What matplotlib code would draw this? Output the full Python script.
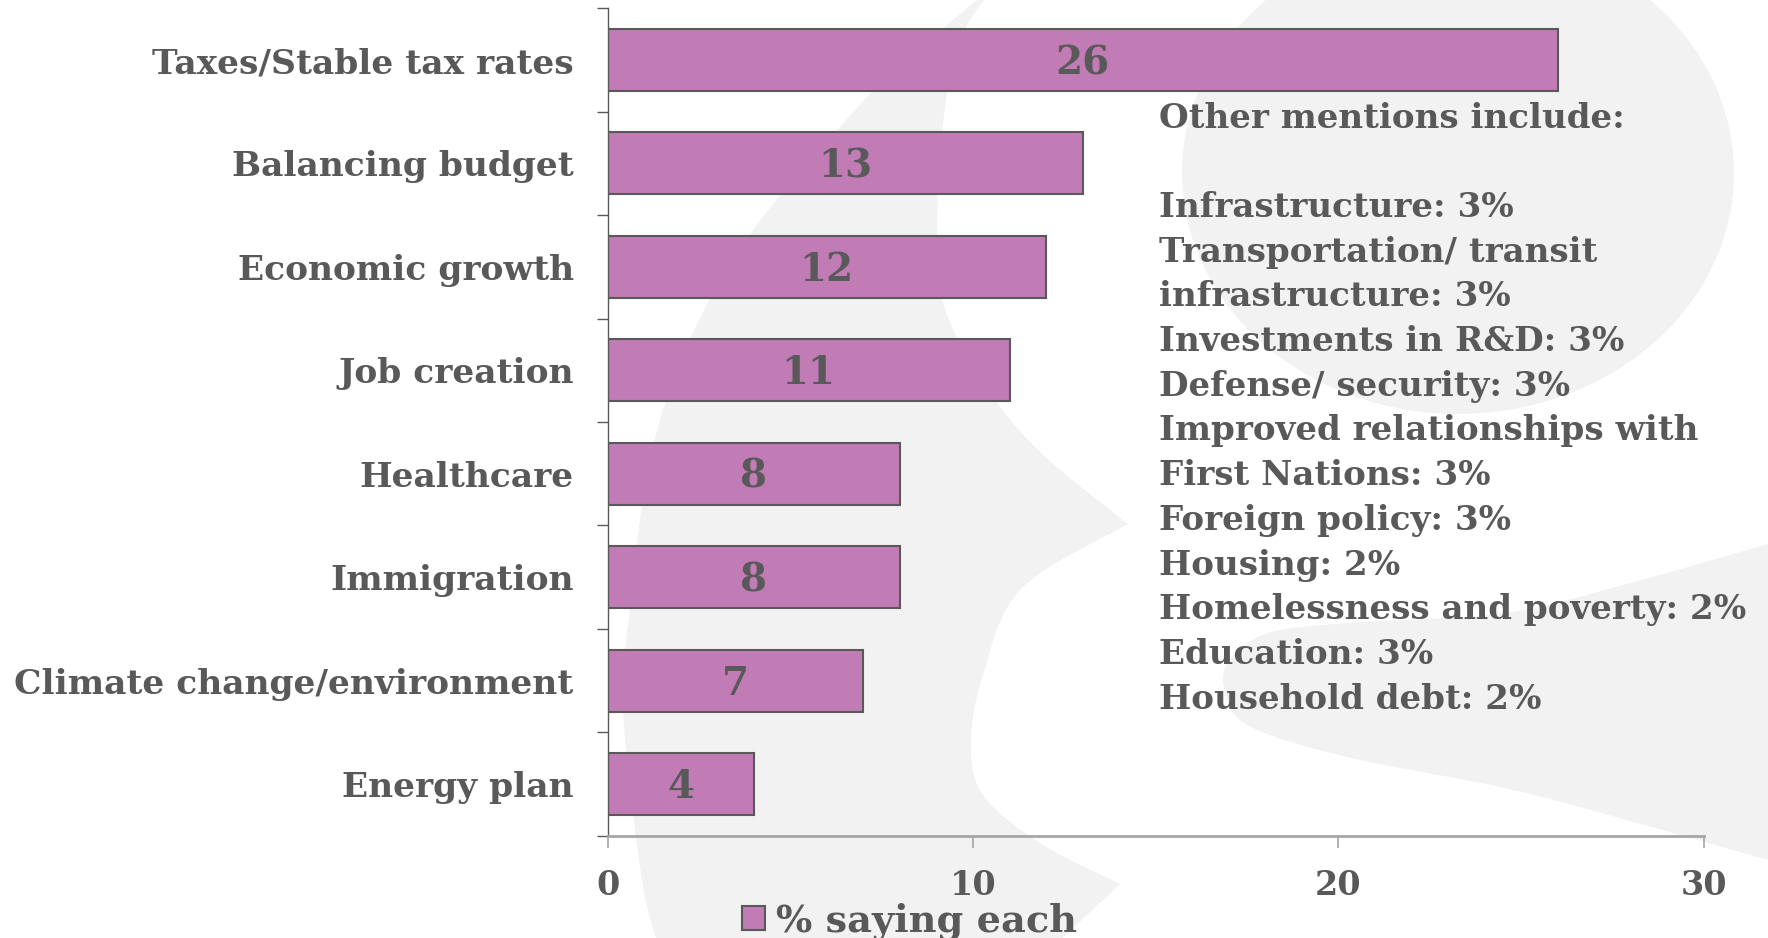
import numpy as np
import matplotlib
matplotlib.use("Agg")
import matplotlib.pyplot as plt
from matplotlib.path import Path
from matplotlib.patches import PathPatch, Ellipse, Patch

# data
categories = ["Taxes/Stable tax rates", "Balancing budget", "Economic growth",
              "Job creation", "Healthcare", "Immigration",
              "Climate change/environment", "Energy plan"]
values = [26, 13, 12, 11, 8, 8, 7, 4]
x_ticks = [0, 10, 20, 30]
series_name = "% saying each"
other_title = "Other mentions include:"
other_mentions = ["Infrastructure: 3%", "Transportation/ transit",
                  "infrastructure: 3%", "Investments in R&D: 3%",
                  "Defense/ security: 3%", "Improved relationships with",
                  "First Nations: 3%", "Foreign policy: 3%", "Housing: 2%",
                  "Homelessness and poverty: 2%", "Education: 3%",
                  "Household debt: 2%"]

BAR = "#C17BB5"
EDGE = "#595959"
TEXT = "#595959"
WMARK = "#F2F2F2"

plt.rcParams["font.family"] = ["DejaVu Serif"]
plt.rcParams["font.weight"] = "bold"

W, H = 1768, 938
fig = plt.figure(figsize=(W / 100, H / 100), dpi=100)


def blob(*chains):
    # closed shape made of smooth curves through the given points (pixel coords)
    verts, codes = [], []
    for k, chain in enumerate(chains):
        p = np.asarray(chain, float)
        verts.append(p[0])
        codes.append(Path.MOVETO if k == 0 else Path.LINETO)
        n = len(p)
        for i in range(n - 1):
            a = p[max(i - 1, 0)]
            d = p[min(i + 2, n - 1)]
            verts += [p[i] + (p[i + 1] - a) / 6, p[i + 1] - (d - p[i]) / 6, p[i + 1]]
            codes += [Path.CURVE4] * 3
    verts.append(verts[0])
    codes.append(Path.CLOSEPOLY)
    return Path(verts, codes)


# background watermark
bg = fig.add_axes([0, 0, 1, 1])
bg.set_xlim(0, W)
bg.set_ylim(H, 0)
bg.axis("off")

left_swoosh = blob(
    [(1000, -20), (930, 40), (868, 96), (753, 230), (688, 344), (650, 459),
     (631, 600), (623, 709), (642, 880), (660, 950)],
    [(1050, 950), (1120, 884)],
    [(1120, 884), (1040, 843), (983, 795), (971, 743), (983, 675), (1021, 589), (1128, 524)],
    [(1128, 524), (1040, 452), (983, 383), (944, 306), (937, 230), (944, 115), (962, 35), (1000, -20)],
)
bg.add_patch(PathPatch(left_swoosh, facecolor=WMARK, edgecolor="none"))
bg.add_patch(Ellipse((1458, 173), 552, 482, facecolor=WMARK, edgecolor="none"))
right_swoosh = blob(
    [(1800, 535), (1768, 544), (1623, 585), (1505, 613), (1347, 623), (1268, 633),
     (1229, 661), (1225, 692), (1249, 726), (1347, 757), (1505, 788), (1623, 819),
     (1768, 860), (1800, 868)],
)
bg.add_patch(PathPatch(right_swoosh, facecolor=WMARK, edgecolor="none"))

# other mentions block
for i, line in enumerate([other_title, ""] + other_mentions):
    bg.text(1159, 118 + i * 44.7, line, ha="left", va="center",
            fontsize=24.6, color=TEXT)

# main chart
ax = fig.add_axes([607.6 / W, 1 - 835.8 / H, (1703.8 - 607.6) / W, (835.8 - 8.3) / H])
ax.patch.set_alpha(0)

pos = np.arange(len(categories))
ax.barh(pos, values, height=0.6, color=BAR, edgecolor=EDGE, linewidth=1.5, zorder=2)
for p, v in zip(pos, values):
    ax.text(v / 2, p + 0.03, str(v), ha="center", va="center", fontsize=28,
            color=TEXT, zorder=3)

ax.set_ylim(len(categories) - 0.5, -0.5)
ax.set_yticks(np.arange(len(categories) + 1) - 0.5)
ax.set_yticklabels([])
ax.set_yticks(pos, minor=True)
ax.set_yticklabels(categories, minor=True)
ax.tick_params(axis="y", which="major", length=8, width=1, color=EDGE, direction="out")
ax.tick_params(axis="y", which="minor", length=0, pad=24.4, labelsize=24.8, labelcolor=TEXT)

ax.set_xlim(0, 30)
ax.set_xticks(x_ticks)
ax.tick_params(axis="x", length=8.6, width=1.2, color="#A6A6A6", pad=15,
               labelsize=24, labelcolor=TEXT)

for s in ["top", "right"]:
    ax.spines[s].set_visible(False)
ax.spines["left"].set_color(EDGE)
ax.spines["left"].set_linewidth(1)
ax.spines["bottom"].set_color("#A6A6A6")
ax.spines["bottom"].set_linewidth(2)

handle = Patch(facecolor=BAR, edgecolor=EDGE, linewidth=1.5)
fig.legend([handle], [series_name], loc="center left",
           bbox_to_anchor=(742 / W, 1 - 921 / H), frameon=False, fontsize=27.5,
           handlelength=0.6, handleheight=0.58, handletextpad=0.28,
           borderpad=0, borderaxespad=0, labelcolor=TEXT)

fig.savefig("out.png", dpi=100)
